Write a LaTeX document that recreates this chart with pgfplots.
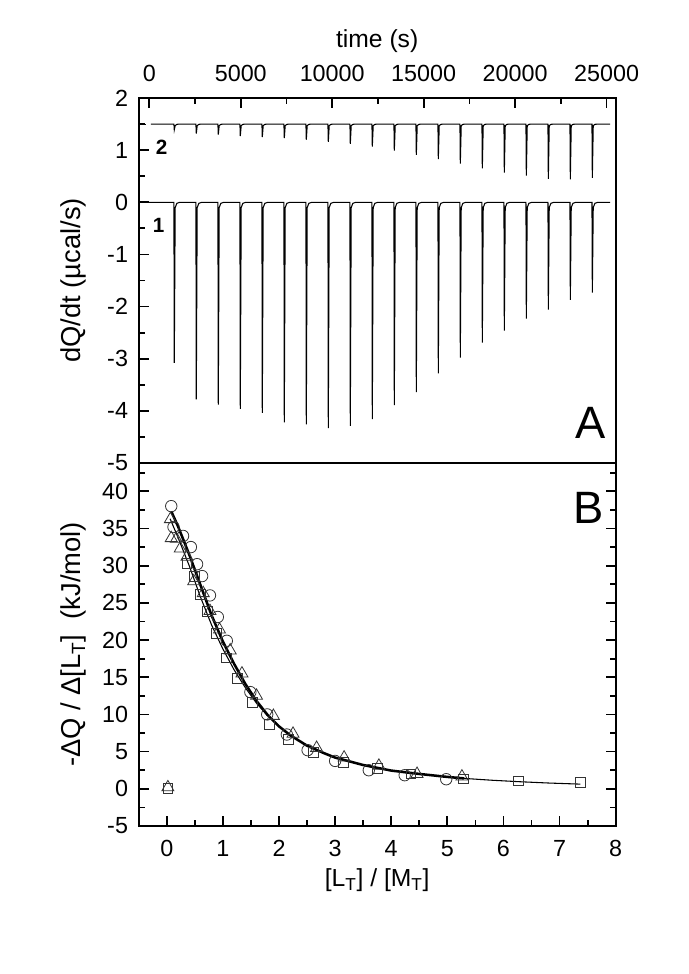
\documentclass[border=0pt]{standalone}
\usepackage{pgfplots}
\pgfplotsset{compat=1.18}
\usepackage{fontspec}
\setmainfont{Liberation Sans}
\begin{document}
\pgfplotsset{
  myax/.style={
    scale only axis, width=357.75pt,
    axis line style={line width=1.5pt},
    tick align=inside,
    major tick length=7.5pt, minor tick length=4.5pt,
    every tick/.style={line width=1.3pt, black},
    /pgf/number format/assume math mode=true,
    tick label style={font=\fontsize{17.5}{21}\selectfont},
    label style={font=\fontsize{18.5}{22}\selectfont},
    ylabel style={font=\fontsize{20.5}{24}\selectfont},
    yticklabel style={xshift=-4.5pt},
    clip=false,
  }
}
\begin{tikzpicture}
\path[use as bounding box] (0,0) rectangle (513.75pt,-730.5pt);
% ---------------- Panel A ----------------
\begin{axis}[myax,
  at={(101.25pt,-347.25pt)}, anchor=south west, height=273.75pt,
  xmin=-580, xmax=25500, ymin=-5, ymax=2,
  xtick={0,5000,10000,15000,20000,25000},
  minor xtick={2500,7500,12500,17500,22500},
  xtick pos=upper, xticklabel pos=upper,
  scaled x ticks=false,
  xticklabel style={/pgf/number format/1000 sep={}, yshift=9pt},
  ytick={-5,-4,-3,-2,-1,0,1,2},
  minor ytick={-4.5,-3.5,-2.5,-1.5,-0.5,0.5,1.5},
  ytick pos=left,
  xlabel={time (s)},
  xlabel style={at={(axis description cs:0.5,1.155)}, anchor=center},
  ylabel={dQ/dt (µcal/s)},
  ylabel style={at={(axis description cs:-0.136,0.5)}, anchor=center},
]
\addplot[black, line width=0.8pt] coordinates {
(-580,0)
(1345,0)(1365,-3.08)(1415,-0.1)(1505,-0.02)(1665,0)
(2548,0)(2568,-3.78)(2618,-0.1)(2708,-0.02)(2868,0)
(3751,0)(3771,-3.88)(3821,-0.1)(3911,-0.02)(4071,0)
(4954,0)(4974,-3.96)(5024,-0.1)(5114,-0.02)(5274,0)
(6157,0)(6177,-4.04)(6227,-0.1)(6317,-0.02)(6477,0)
(7360,0)(7380,-4.22)(7430,-0.1)(7520,-0.02)(7680,0)
(8563,0)(8583,-4.26)(8633,-0.1)(8723,-0.02)(8883,0)
(9766,0)(9786,-4.33)(9836,-0.1)(9926,-0.02)(10086,0)
(10969,0)(10989,-4.29)(11039,-0.1)(11129,-0.02)(11289,0)
(12172,0)(12192,-4.16)(12242,-0.1)(12332,-0.02)(12492,0)
(13375,0)(13395,-3.89)(13445,-0.1)(13535,-0.02)(13695,0)
(14578,0)(14598,-3.64)(14648,-0.1)(14738,-0.02)(14898,0)
(15781,0)(15801,-3.28)(15851,-0.1)(15941,-0.02)(16101,0)
(16984,0)(17004,-2.98)(17054,-0.1)(17144,-0.02)(17304,0)
(18187,0)(18207,-2.69)(18257,-0.1)(18347,-0.02)(18507,0)
(19390,0)(19410,-2.46)(19460,-0.1)(19550,-0.02)(19710,0)
(20593,0)(20613,-2.23)(20663,-0.1)(20753,-0.02)(20913,0)
(21796,0)(21816,-2.06)(21866,-0.1)(21956,-0.02)(22116,0)
(22999,0)(23019,-1.87)(23069,-0.1)(23159,-0.02)(23319,0)
(24202,0)(24222,-1.73)(24272,-0.1)(24362,-0.02)(24522,0)
(25200,0)
};
\addplot[black, line width=0.8pt] coordinates {(-580,1.5)(-200,1.5)};
\addplot[black, line width=0.8pt] coordinates {
(80,1.5)
(1345,1.5)(1365,1.39)(1415,1.47)(1505,1.495)(1665,1.5)
(2548,1.5)(2568,1.32)(2618,1.47)(2708,1.495)(2868,1.5)
(3751,1.5)(3771,1.30)(3821,1.47)(3911,1.495)(4071,1.5)
(4954,1.5)(4974,1.27)(5024,1.47)(5114,1.495)(5274,1.5)
(6157,1.5)(6177,1.25)(6227,1.47)(6317,1.495)(6477,1.5)
(7360,1.5)(7380,1.23)(7430,1.47)(7520,1.495)(7680,1.5)
(8563,1.5)(8583,1.20)(8633,1.47)(8723,1.495)(8883,1.5)
(9766,1.5)(9786,1.16)(9836,1.47)(9926,1.495)(10086,1.5)
(10969,1.5)(10989,1.12)(11039,1.47)(11129,1.495)(11289,1.5)
(12172,1.5)(12192,1.07)(12242,1.47)(12332,1.495)(12492,1.5)
(13375,1.5)(13395,0.99)(13445,1.47)(13535,1.495)(13695,1.5)
(14578,1.5)(14598,0.91)(14648,1.47)(14738,1.495)(14898,1.5)
(15781,1.5)(15801,0.83)(15851,1.47)(15941,1.495)(16101,1.5)
(16984,1.5)(17004,0.74)(17054,1.47)(17144,1.495)(17304,1.5)
(18187,1.5)(18207,0.65)(18257,1.47)(18347,1.495)(18507,1.5)
(19390,1.5)(19410,0.57)(19460,1.47)(19550,1.495)(19710,1.5)
(20593,1.5)(20613,0.51)(20663,1.47)(20753,1.495)(20913,1.5)
(21796,1.5)(21816,0.45)(21866,1.47)(21956,1.495)(22116,1.5)
(22999,1.5)(23019,0.44)(23069,1.47)(23159,1.495)(23319,1.5)
(24202,1.5)(24222,0.47)(24272,1.47)(24362,1.495)(24522,1.5)
(25200,1.5)
};
\node[font=\bfseries\fontsize{15.5}{18}\selectfont] at (rel axis cs:0.048,0.866) {2};
\node[font=\bfseries\fontsize{15.5}{18}\selectfont] at (rel axis cs:0.042,0.652) {1};
\node[font=\fontsize{34}{40}\selectfont] at (rel axis cs:0.947,0.11) {A};
\end{axis}
% ---------------- Panel B ----------------
\begin{axis}[myax,
  at={(101.25pt,-619.5pt)}, anchor=south west, height=272.25pt,
  xmin=-0.5, xmax=8, ymin=-5, ymax=43.8,
  xtick={0,1,2,3,4,5,6,7,8},
  minor xtick={0.5,1.5,2.5,3.5,4.5,5.5,6.5,7.5},
  xtick pos=lower, xticklabel pos=lower,
  xticklabel style={yshift=-7pt},
  ytick={-5,0,5,10,15,20,25,30,35,40},
  minor ytick={-2.5,2.5,7.5,12.5,17.5,22.5,27.5,32.5,37.5,42.5},
  ytick pos=both, yticklabel pos=left,
  xlabel={[L\textsubscript{T}] / [M\textsubscript{T}]},
  xlabel style={at={(axis description cs:0.5,-0.105)}, anchor=north},
  ylabel={-ΔQ / Δ[L\textsubscript{T}]\ \ (kJ/mol)},
  ylabel style={at={(axis description cs:-0.136,0.5)}, anchor=center},
]
\addplot[black, line width=1.9pt] coordinates {
(0.08,37.3)(0.2,35.3)(0.4,31.5)(0.6,27.4)(0.8,23.3)(1.0,19.8)(1.2,16.8)(1.4,14.1)
(1.6,11.8)(1.8,9.9)(2.0,8.4)(2.2,7.2)(2.5,5.8)(2.8,4.8)(3.0,4.2)(3.5,3.2)(4.0,2.45)
(4.5,2.0)(5.0,1.6)(5.3,1.4)
};
\addplot[black, line width=0.8pt] coordinates {
(0.06,36.3)(0.2,33.8)(0.4,30.0)(0.6,25.8)(0.8,22.0)(1.0,18.8)(1.2,16.0)(1.4,13.6)(1.6,11.5)(1.8,9.8)
};
\addplot[black, line width=0.8pt] coordinates {
(5.3,1.4)(5.8,1.15)(6.3,0.95)(6.8,0.78)(7.37,0.63)
};
\addplot[only marks, mark=o, mark size=4.3pt, black!80, mark options={line width=0.6pt}] coordinates {
(0.08,38.0)(0.12,35.2)(0.29,34.0)(0.43,32.5)(0.54,30.2)(0.63,28.6)(0.77,26.0)(0.91,23.1)
(1.07,19.9)(1.49,13.0)(1.79,10.0)(2.14,7.3)(2.51,5.2)(3.0,3.75)(3.6,2.5)(4.24,1.83)(4.98,1.29)
};
\addplot[only marks, mark=triangle, mark size=5.2pt, black!80, mark options={line width=0.6pt}] coordinates {
(0.02,0.2)(0.065,36.25)(0.08,33.7)(0.17,33.6)(0.24,32.3)(0.36,31.2)(0.48,27.9)(0.65,26.3)(0.77,23.9)
(0.94,21.4)(1.13,18.6)(1.34,15.5)(1.6,12.5)(1.9,9.8)(2.25,7.4)(2.67,5.5)(3.16,4.2)
(3.78,3.1)(4.46,2.0)(5.26,1.65)
};
\addplot[only marks, mark=square, mark size=3.7pt, black!80, mark options={line width=0.6pt}] coordinates {
(0.02,0.1)(0.36,30.3)(0.49,28.5)(0.6,26.1)(0.73,23.8)(0.89,20.9)(1.07,17.6)(1.26,14.8)(1.52,11.6)
(1.83,8.7)(2.17,6.7)(2.62,4.9)(3.14,3.6)(3.75,2.7)(4.35,2.0)(5.29,1.34)(6.26,1.07)(7.37,0.85)
};
\node[font=\fontsize{34}{40}\selectfont] at (rel axis cs:0.943,0.876) {B};
\end{axis}
\end{tikzpicture}
\end{document}
